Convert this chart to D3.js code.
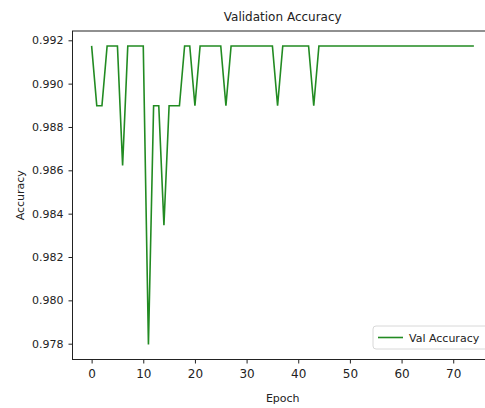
<!DOCTYPE html>
<html>
<head>
<meta charset="utf-8">
<script src="https://cdn.jsdelivr.net/npm/d3@7"></script>
<style>
  html, body { margin: 0; padding: 0; background: #fff; overflow: hidden; }
  text { font-family: "DejaVu Sans", sans-serif; fill: #222; }
</style>
</head>
<body>
<svg id="chart" width="485" height="408"></svg>
<script>
// ---- data ----
const epochs = d3.range(0, 75);
const valAccuracy = [
  0.99174, 0.98898, 0.98898, 0.99174, 0.99174, 0.99174, 0.98623, 0.99174, 0.99174, 0.99174,
  0.99174, 0.97796, 0.98898, 0.98898, 0.98347, 0.98898, 0.98898, 0.98898, 0.99174, 0.99174,
  0.98898, 0.99174, 0.99174, 0.99174, 0.99174, 0.99174, 0.98898, 0.99174, 0.99174, 0.99174,
  0.99174, 0.99174, 0.99174, 0.99174, 0.99174, 0.99174, 0.98898, 0.99174, 0.99174, 0.99174,
  0.99174, 0.99174, 0.99174, 0.98898, 0.99174, 0.99174, 0.99174, 0.99174, 0.99174, 0.99174,
  0.99174, 0.99174, 0.99174, 0.99174, 0.99174, 0.99174, 0.99174, 0.99174, 0.99174, 0.99174,
  0.99174, 0.99174, 0.99174, 0.99174, 0.99174, 0.99174, 0.99174, 0.99174, 0.99174, 0.99174,
  0.99174, 0.99174, 0.99174, 0.99174, 0.99174
];
const xTicks = [0, 10, 20, 30, 40, 50, 60, 70];
const yTicks = [0.978, 0.980, 0.982, 0.984, 0.986, 0.988, 0.990, 0.992];
const titleText = "Validation Accuracy";
const xLabel = "Epoch";
const yLabel = "Accuracy";
const legendLabel = "Val Accuracy";

// ---- layout ----
const mLeft = 72.5, mRight = 493, mTop = 31, mBottom = 359.5;
const svg = d3.select("#chart");

function padded(ext) {
  const pad = (ext[1] - ext[0]) * 0.05;
  return [ext[0] - pad, ext[1] + pad];
}
const x = d3.scaleLinear().domain(padded(d3.extent(epochs))).range([mLeft, mRight]);
const y = d3.scaleLinear().domain(padded(d3.extent(valAccuracy))).range([mBottom, mTop]);

// frame
svg.append("rect")
  .attr("x", mLeft).attr("y", mTop)
  .attr("width", mRight - mLeft).attr("height", mBottom - mTop)
  .attr("fill", "none").attr("stroke", "#222").attr("stroke-width", 1);

// axes
const xAxis = svg.append("g")
  .attr("transform", `translate(0,${mBottom})`)
  .call(d3.axisBottom(x).tickValues(xTicks).tickFormat(d3.format("d")).tickSize(4).tickPadding(6));
const yAxis = svg.append("g")
  .attr("transform", `translate(${mLeft},0)`)
  .call(d3.axisLeft(y).tickValues(yTicks).tickFormat(d3.format(".3f")).tickSize(4).tickPadding(5));
[xAxis, yAxis].forEach(g => {
  g.select(".domain").remove();
  g.selectAll(".tick line").attr("stroke", "#222").attr("stroke-width", 1);
  g.selectAll(".tick text").style("font-size", "11px").attr("fill", "#333");
});
xAxis.selectAll(".tick text").style("font-size", "12px");

// line
const line = d3.line()
  .x((d, i) => x(epochs[i]))
  .y(d => y(d));
svg.append("path")
  .datum(valAccuracy)
  .attr("fill", "none")
  .attr("stroke", "#228b22")
  .attr("stroke-width", 1.6)
  .attr("stroke-linejoin", "miter")
  .attr("d", line);

// title & labels
svg.append("text")
  .attr("x", (mLeft + mRight) / 2).attr("y", 21)
  .attr("text-anchor", "middle")
  .style("font-size", "12px")
  .text(titleText);
svg.append("text")
  .attr("x", (mLeft + mRight) / 2).attr("y", 402)
  .attr("text-anchor", "middle")
  .style("font-size", "11px")
  .attr("fill", "#333")
  .text(xLabel);
svg.append("text")
  .attr("transform", `translate(24,${(mTop + mBottom) / 2}) rotate(-90)`)
  .attr("text-anchor", "middle")
  .style("font-size", "11px")
  .attr("fill", "#333")
  .text(yLabel);

// legend
const lg = svg.append("g");
lg.append("rect")
  .attr("x", 373).attr("y", 326)
  .attr("width", 116).attr("height", 23)
  .attr("rx", 3)
  .attr("fill", "#fff").attr("fill-opacity", 0.8)
  .attr("stroke", "#d8d8d8");
lg.append("line")
  .attr("x1", 378).attr("x2", 403)
  .attr("y1", 337.5).attr("y2", 337.5)
  .attr("stroke", "#228b22").attr("stroke-width", 1.6);
lg.append("text")
  .attr("x", 409).attr("y", 341.5)
  .style("font-size", "11px")
  .attr("fill", "#333")
  .text(legendLabel);
</script>
</body>
</html>
